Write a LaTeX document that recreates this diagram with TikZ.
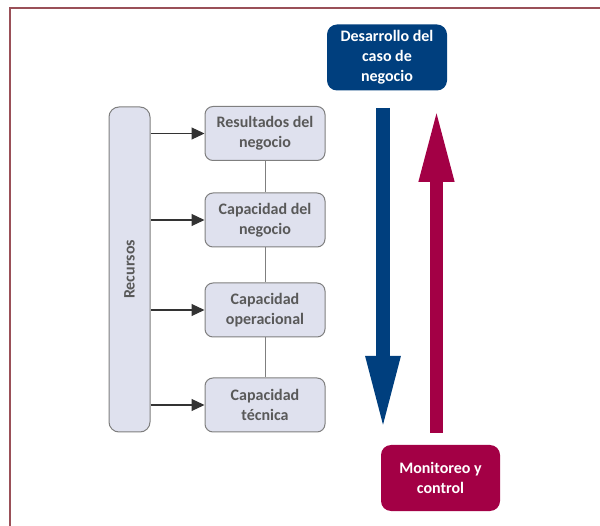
\documentclass[tikz,border=0pt]{standalone}
\usepackage{fontspec}
\setmainfont{Carlito}
\usetikzlibrary{arrows.meta}

\definecolor{frameline}{HTML}{9A5058}
\definecolor{boxfill}{HTML}{DFE1EE}
\definecolor{boxline}{HTML}{7F7F7F}
\definecolor{boxtext}{HTML}{595959}
\definecolor{navy}{HTML}{003F7E}
\definecolor{crimson}{HTML}{A30045}

\tikzset{
  level/.style={draw=boxline, fill=boxfill, rounded corners=8pt, line width=1pt,
    minimum width=120pt, minimum height=54pt, align=center, text=boxtext,
    font=\bfseries\fontsize{16pt}{20pt}\selectfont},
  phase/.style={rounded corners=10pt, align=center, text=white,
    minimum width=120pt, minimum height=66pt,
    font=\bfseries\fontsize{16pt}{20pt}\selectfont},
  feed/.style={-{Triangle[length=13pt,width=12pt]}, line width=1.2pt, draw=black!80}
}

\begin{document}
\begin{tikzpicture}[x=1pt, y=-1pt]

    % Fix the page size
    \useasboundingbox (0,0) rectangle (600,526);

    % Draw the frame (left and top edges only)
    \draw[frameline, line width=1.2pt] (10,526) -- (10,8) -- (600,8);

    % Resource bar
    \node[draw=boxline, fill=boxfill, rounded corners=10pt, line width=1pt,
      rotate=90, minimum width=325pt, minimum height=41pt, text=boxtext,
      font=\bfseries\fontsize{16pt}{18pt}\selectfont] (recursos) at (129.5,269.5) {Recursos};

    % Levels
    \node[level] (resultados) at (265,133.5) {Resultados del\\negocio};
    \node[level] (capnegocio) at (265,220) {Capacidad del\\negocio};
    \node[level] (capoper) at (265,310) {Capacidad\\operacional};
    \node[level] (captec) at (265,405) {Capacidad\\técnica};

    % Links between the levels
    \draw[boxline, line width=1pt] (resultados) -- (capnegocio);
    \draw[boxline, line width=1pt] (capnegocio) -- (capoper);
    \draw[boxline, line width=1pt] (capoper) -- (captec);

    % Arrows from the resource bar
    \foreach \lvl in {resultados, capnegocio, capoper, captec}
      \draw[feed] (recursos.south |- \lvl) -- (\lvl.west);

    % Phases
    \node[phase, fill=navy] (desarrollo) at (387,57.5) {Desarrollo del\\caso de\\negocio};
    \node[phase, fill=crimson, minimum width=119pt] (monitoreo) at (440.5,478) {Monitoreo y\\control};

    % Big arrows
    \coordinate (downtop) at (383,108);
    \coordinate (downend) at (383,432);
    \coordinate (uptop) at (436.5,108);
    \coordinate (upend) at (436.5,433);
    \draw[navy, line width=14pt, -{Triangle[length=76pt,width=31pt]}] (downtop) -- (downend);
    \draw[crimson, line width=13pt, -{Triangle[length=74pt,width=32pt]}] (upend) -- (uptop);

\end{tikzpicture}
\end{document}
